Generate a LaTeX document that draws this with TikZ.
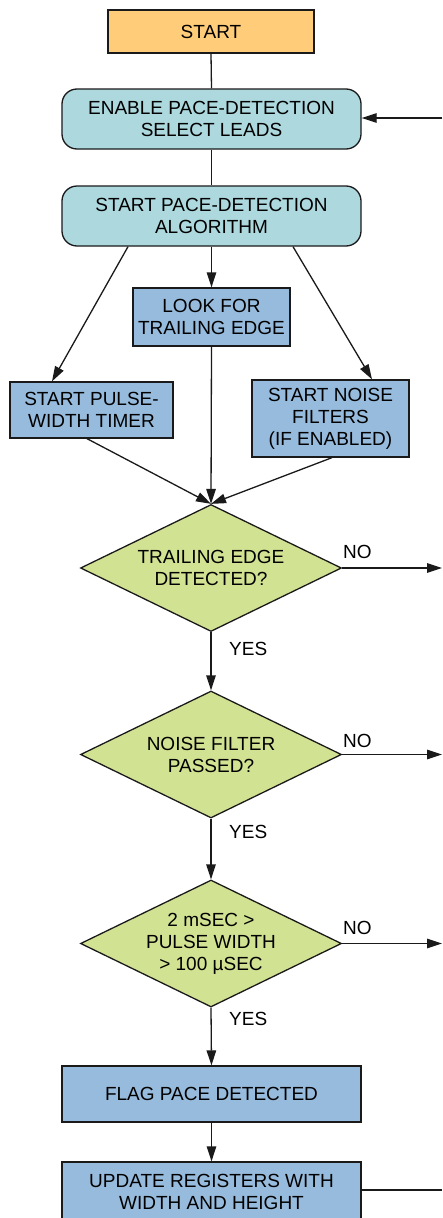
\documentclass[tikz,border=0pt]{standalone}
\usepackage{fontspec}
\setmainfont{Liberation Sans}
\usetikzlibrary{shapes.geometric,arrows.meta,calc}
\definecolor{startc}{HTML}{FFCC7A}
\definecolor{cyanc}{HTML}{ADD8DE}
\definecolor{bluec}{HTML}{97BBDC}
\definecolor{greenc}{HTML}{D2E293}
\definecolor{linec}{HTML}{1A1A1A}
\newcommand{\lab}{\fontsize{19}{22}\selectfont}
\tikzset{
  base/.style={draw=linec, line width=1.3pt, inner sep=0pt, align=center, font=\lab, text=black},
  startbox/.style={base, rectangle, fill=startc},
  roundbox/.style={base, rectangle, rounded corners=15pt, fill=cyanc},
  bluebox/.style={base, rectangle, fill=bluec},
  decision/.style={base, diamond, fill=greenc, shape aspect=2.06, minimum width=261pt, minimum height=127pt},
  conn/.style={draw=linec, line width=1.3pt},
  arr/.style={conn, -{Triangle[length=15pt,width=9.5pt]}},
  lbl/.style={font=\lab, inner sep=0pt, anchor=west}
}
\begin{document}
\begin{tikzpicture}[x=1pt,y=-1pt]
\useasboundingbox (0,0) rectangle (442,1218);
\fill[white] (0,0) rectangle (442,1218);

\node[startbox, minimum width=206pt, minimum height=43pt] (start) at (211,31.5) {START};
\node[roundbox, minimum width=299pt, minimum height=60pt] (enable) at (211.5,119) {ENABLE PACE-DETECTION\\SELECT LEADS};
\node[roundbox, minimum width=299pt, minimum height=60pt] (alg) at (211.5,216) {START PACE-DETECTION\\ALGORITHM};
\node[bluebox, minimum width=157pt, minimum height=58pt] (look) at (211.5,317) {LOOK FOR\\TRAILING EDGE};
\node[bluebox, minimum width=163pt, minimum height=56pt] (pulse) at (91.5,410) {START PULSE-\\WIDTH TIMER};
\node[bluebox, minimum width=157pt, minimum height=77pt] (noise) at (330.5,418.5) {START NOISE\\FILTERS\\(IF ENABLED)};
\node[decision] (d1) at (211,568) {TRAILING EDGE\\DETECTED?};
\node[decision] (d2) at (211,754.5) {NOISE FILTER\\PASSED?};
\node[decision] (d3) at (211,943.5) {2 mSEC >\\PULSE WIDTH\\> 100 µSEC};
\node[bluebox, minimum width=299pt, minimum height=56pt] (flag) at (211.5,1094) {FLAG PACE DETECTED};
\node[bluebox, minimum width=299pt, minimum height=60pt] (update) at (211.5,1192) {UPDATE REGISTERS WITH\\WIDTH AND HEIGHT};

\coordinate (r0) at (442,118);
\coordinate (r1) at (442,568);
\coordinate (r2) at (442,754.5);
\coordinate (r3) at (442,943.5);
\coordinate (r4) at (442,1190);

\draw[conn] (start.south) -- (enable.north);
\draw[conn] (enable.south) -- (alg.north);
\draw[arr] (r0) -- (r0 -| enable.east);
\draw[arr] ([xshift=-83.5pt]alg.south) -- ([xshift=-39.5pt]pulse.north);
\draw[arr] (alg.south) -- (look.north);
\draw[arr] ([xshift=81.5pt]alg.south) -- ([xshift=41.5pt]noise.north);
\draw[arr] ([xshift=-4.5pt]pulse.south) -- (d1.north);
\draw[arr] (look.south) -- (d1.north);
\draw[arr] ([xshift=1.5pt]noise.south) -- (d1.north);
\draw[arr] (d1.south) -- (d2.north);
\draw[arr] (d2.south) -- (d3.north);
\draw[arr] (d3.south) -- (flag.north);
\draw[arr] (flag.south) -- (update.north);
\draw[arr] (d1.east) -- (r1);
\draw[arr] (d2.east) -- (r2);
\draw[arr] (d3.east) -- (r3);
\draw[conn] (update.east |- r4) -- (r4);

\node[lbl] (no1) at (343,552) {NO};
\node[lbl] (no2) at (343,741) {NO};
\node[lbl] (no3) at (343,928) {NO};
\node[lbl] (yes1) at (229,649) {YES};
\node[lbl] (yes2) at (229,832) {YES};
\node[lbl] (yes3) at (229,1019) {YES};
\end{tikzpicture}
\end{document}
